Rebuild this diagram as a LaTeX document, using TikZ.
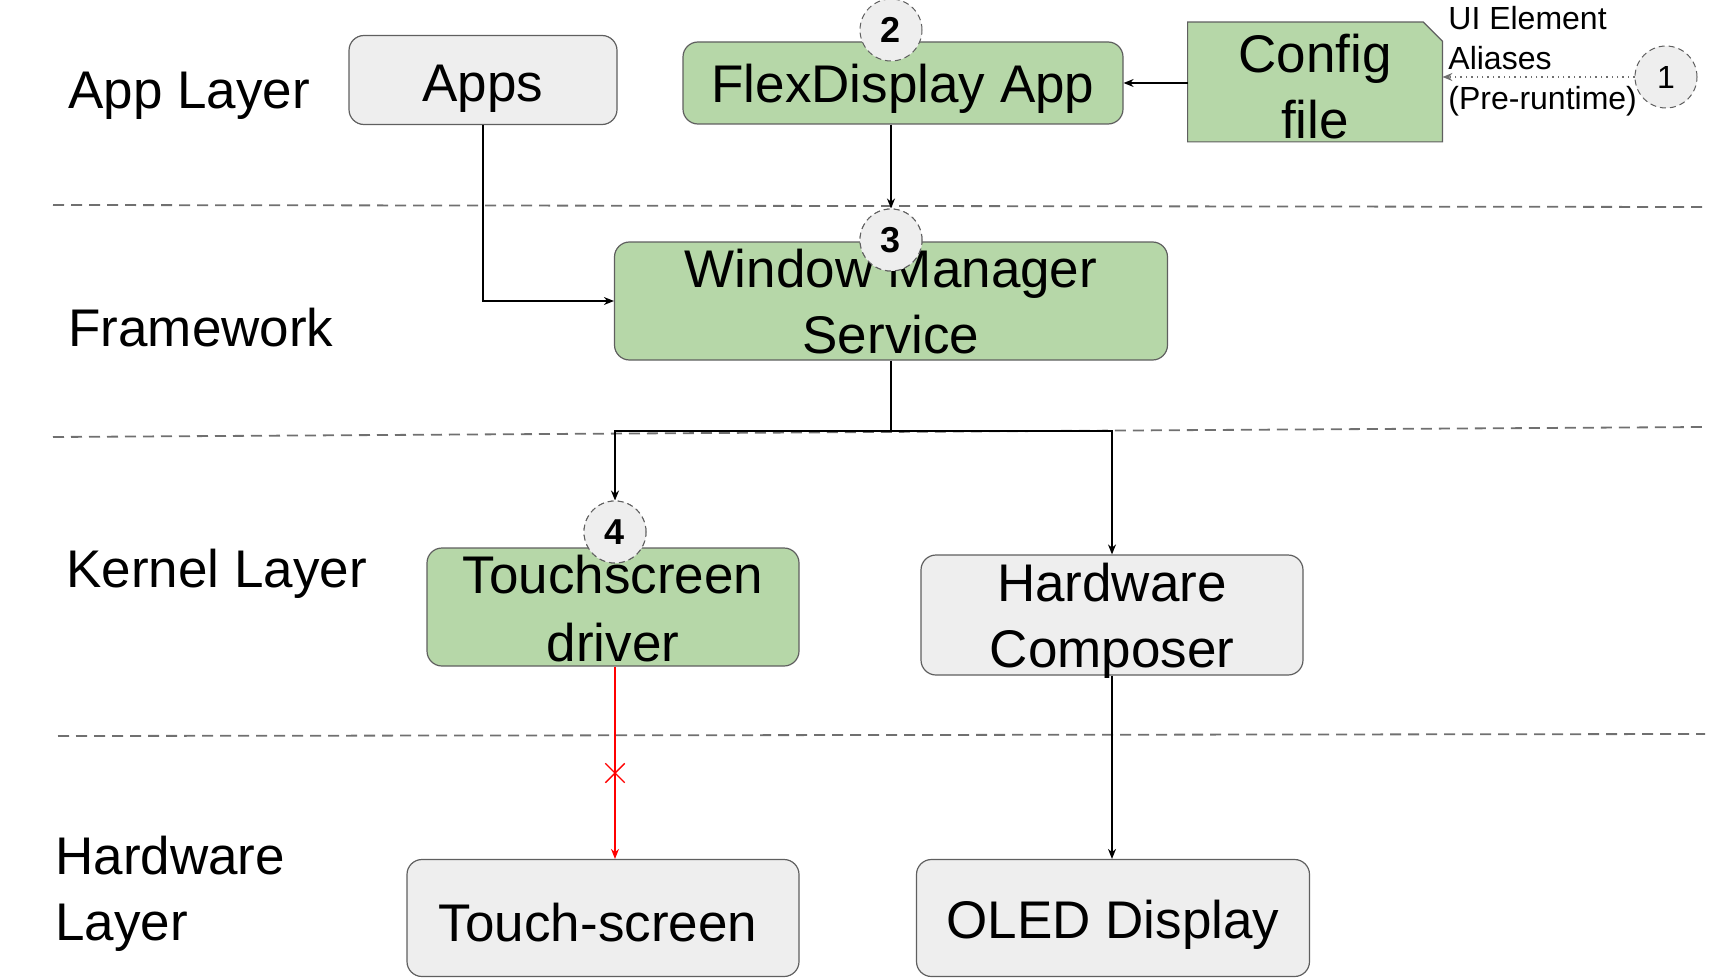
\documentclass[tikz,border=0pt]{standalone}
\usepackage{fontspec}
\setmainfont{Liberation Sans}
\usetikzlibrary{arrows.meta,shapes.misc,backgrounds}
\definecolor{boxgreen}{HTML}{B6D7A8}
\definecolor{boxgray}{HTML}{EEEEEE}
\definecolor{edgegray}{HTML}{5F5F5F}
\definecolor{dashgray}{HTML}{707070}
\newcommand\lowr[2][2.75pt]{\raisebox{-#1}[\height][\depth]{#2}}
\begin{document}
\begin{tikzpicture}[x=0.5pt,y=-0.5pt,
 big/.style={font=\fontsize{26.5}{33}\selectfont},
 box/.style={big, draw=edgegray, line width=0.6pt, rounded corners=7.5pt, align=center, inner sep=0pt},
 greenbox/.style={box, fill=boxgreen},
 graybox/.style={box, fill=boxgray},
 badge/.style={circle, draw=edgegray, densely dashed, line width=0.5pt, fill=boxgray, minimum size=31pt, inner sep=0pt, font=\fontsize{18}{18}\selectfont\bfseries},
 layerlabel/.style={big, anchor=west, align=left, inner sep=0pt},
 conn/.style={line width=0.7pt, draw=black},
 arr/.style={conn, -{Stealth[length=5pt,width=4pt]}},
 sep/.style={draw=dashgray, line width=0.9pt, dash pattern=on 5.5pt off 3.5pt}]
\useasboundingbox (0,0) rectangle (1730,979);

% layer separators
\draw[sep] (53,205) -- (1705,207);
\draw[sep] (53,437) -- (1705,427);
\draw[sep] (58,736) -- (1705,734);

% layer labels
\node[layerlabel] (lapp) at (68,96) {App Layer};
\node[layerlabel] (lfw) at (68,328) {Framework};
\node[layerlabel] (lker) at (66,574) {Kernel Layer};
\node[layerlabel] (lhw) at (55,894) {Hardware\\Layer};

% boxes
\node[graybox, minimum width=134pt, minimum height=44.5pt] (apps) at (483,80) {\lowr[4.5pt]{Apps}};
\node[greenbox, minimum width=220pt, minimum height=41pt] (flex) at (903,83) {\lowr{FlexDisplay App}};
\node[big, minimum width=127pt, minimum height=59.5pt, align=center, inner sep=0pt] (config) at (1315,82) {\lowr[2.5pt]{Config}\\\lowr[2.5pt]{file}};
\begin{scope}[on background layer]
\draw[edgegray, fill=boxgreen, line width=0.6pt] (config.south west) -- (config.north west) -- ([xshift=-9.5pt]config.north east) -- ([yshift=-9.5pt]config.north east) -- (config.south east) -- cycle;
\end{scope}
\node[greenbox, minimum width=276.5pt, minimum height=59pt] (wm) at (891,301) {\lowr[0.5pt]{Window Manager}\\\lowr[0.5pt]{Service}};
\node[greenbox, minimum width=186pt, minimum height=59pt, font=\fontsize{26.5}{34}\selectfont] (tsd) at (613,607) {\lowr[1pt]{Touchscreen}\\\lowr[1pt]{driver}};
\node[graybox, minimum width=191pt, minimum height=60pt] (hwc) at (1112,615) {\lowr[3pt]{Hardware}\\\lowr[3pt]{Composer}};
\node[graybox, minimum width=196pt, minimum height=58.5pt] (ts) at (603,918) {\hspace*{-5pt}\lowr[2.2pt]{Touch-screen}};
\node[graybox, minimum width=196.5pt, minimum height=58.5pt] (oled) at (1113,918) {\lowr[3.3pt]{OLED Display}};

% annotation
\node[anchor=west, align=left, inner sep=0pt, font=\fontsize{16}{20}\selectfont] (note) at (1448,61) {UI Element\\Aliases\\(Pre-runtime)};

% badges
\node[badge] (c2) at (891,30) {2};
\node[badge] (c3) at (891,240) {3};
\node[badge] (c4) at (615,532) {4};
\node[badge, font=\fontsize{16}{16}\selectfont] (c1) at (1666,77) {1};

% connectors
\draw[arr] (config.west |- flex.east) -- (flex.east);
\draw[arr, dotted, draw=dashgray] (c1.west) -- (config.east |- c1.west);
\draw[arr] (flex.south -| c3.north) -- (c3.north);
\draw[arr] (apps.south) |- (wm.west);
\coordinate (bus) at (891,431);
\draw[conn] (wm.south) -- (bus);
\draw[arr] (bus) -| (c4.north);
\draw[arr] (bus) -| (hwc.north);
\draw[arr, draw=red] (c4 |- tsd.south) -- (c4 |- ts.north);
\node[cross out, draw=red, line width=0.7pt, minimum size=9pt, inner sep=0pt] (xmark) at (615,773) {};
\draw[arr] (hwc.south) -- (hwc.south |- oled.north);

% badges on top of connectors
\node[badge] at (c3) {3};
\node[badge] at (c4) {4};
\end{tikzpicture}
\end{document}
